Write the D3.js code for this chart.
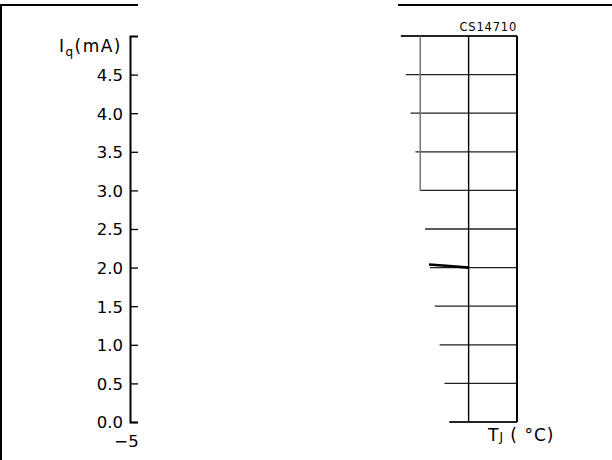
<!DOCTYPE html>
<html>
<head>
<meta charset="utf-8">
<script src="https://cdn.jsdelivr.net/npm/d3@7"></script>
<style>
  body { margin: 0; background: #fff; }
  text { font-family: 'DejaVu Sans', sans-serif; fill: #000; }
</style>
</head>
<body>
<svg id="chart" width="612" height="460"></svg>
<script>
// values
const yTicks = [0, 0.5, 1.0, 1.5, 2.0, 2.5, 3.0, 3.5, 4.0, 4.5];
const xTicks = [-5];
const gridRows = [5.0, 4.5, 4.0, 3.5, 3.0, 2.5, 2.0, 1.5, 1.0, 0.5, 0.0];
const rowStarts = [135, 137.5, 140, 142.5, 145, 147.5, 150, 152.5, 155, 157.5, 160];
const gridCols = [170, 195];
const shortCol = { t: 145, from: 3.0, to: 5.0 };
const curve = [[149.5, 2.04], [160, 2.02], [170, 2.0]];

const svg = d3.select('#chart');
const x = d3.scaleLinear().domain([-5, 195]).range([130, 517]);
const y = d3.scaleLinear().domain([0, 5]).range([422, 36]);

// page frame
svg.append('path')
  .attr('d', 'M1,460V5H138M398,5H612')
  .attr('fill', 'none').attr('stroke', '#000').attr('stroke-width', 2);

// grid rows
svg.selectAll('line.row')
  .data(gridRows)
  .enter().append('line')
  .attr('class', 'row')
  .attr('x1', (d, i) => x(rowStarts[i]))
  .attr('x2', x(195))
  .attr('y1', d => y(d))
  .attr('y2', d => y(d))
  .attr('stroke', '#222')
  .attr('stroke-width', (d) => (d === 5 || d === 0) ? 2 : 1.3);

// grid columns
svg.append('line')
  .attr('x1', x(shortCol.t)).attr('x2', x(shortCol.t))
  .attr('y1', y(shortCol.to)).attr('y2', y(shortCol.from))
  .attr('stroke', '#777').attr('stroke-width', 1.5);

svg.selectAll('line.col')
  .data(gridCols)
  .enter().append('line')
  .attr('class', 'col')
  .attr('x1', d => x(d)).attr('x2', d => x(d))
  .attr('y1', y(5)).attr('y2', y(0))
  .attr('stroke', '#000')
  .attr('stroke-width', (d) => d === 195 ? 2 : 1.4);

// the curve
svg.append('path')
  .datum(curve)
  .attr('fill', 'none').attr('stroke', '#000').attr('stroke-width', 2.6)
  .attr('d', d3.line().x(d => x(d[0])).y(d => y(d[1])));

// y axis, ticks pointing inward
const yAxis = d3.axisLeft(y)
  .tickValues(yTicks)
  .tickFormat(d3.format('.1f'))
  .tickSizeInner(-8)
  .tickSizeOuter(-8)
  .tickPadding(7);

const gy = svg.append('g')
  .attr('transform', 'translate(' + x(-5) + ',0)')
  .call(yAxis);
gy.select('.domain').attr('stroke-width', 2);
gy.selectAll('.tick line').attr('stroke-width', 1.3);
gy.selectAll('.tick text')
  .style('font-family', "'DejaVu Sans', sans-serif")
  .style('font-size', '16.5px')
  .attr('dy', '0.36em');

// x axis: only the -5 label
const xAxis = d3.axisBottom(x)
  .tickValues(xTicks)
  .tickFormat(d => '\u2212' + Math.abs(d))
  .tickSize(0)
  .tickPadding(13);

const gx = svg.append('g').attr('transform', 'translate(-4,' + y(0) + ')').call(xAxis);
gx.select('.domain').remove();
gx.selectAll('.tick text')
  .style('font-family', "'DejaVu Sans', sans-serif")
  .style('font-size', '16.5px');

// axis titles
const yt = svg.append('text')
  .attr('x', 122).attr('y', 52)
  .attr('text-anchor', 'end')
  .style('font-size', '17px')
  .style('letter-spacing', '1.5px');
yt.append('tspan').text('I');
yt.append('tspan').attr('dy', 4).style('font-size', '12px').text('q');
yt.append('tspan').attr('dy', -4).text('(mA)');

const xt = svg.append('text')
  .attr('x', 488).attr('y', 441)
  .style('font-size', '17px')
  .style('letter-spacing', '1px');
xt.append('tspan').text('T');
xt.append('tspan').style('font-size', '12px').text('J');
xt.append('tspan').text(' ( \u00B0C)');

svg.append('text')
  .attr('x', 517).attr('y', 31)
  .attr('text-anchor', 'end')
  .style('font-size', '11.5px')
  .style('letter-spacing', '0.8px')
  .text('CS14710');
</script>
</body>
</html>
